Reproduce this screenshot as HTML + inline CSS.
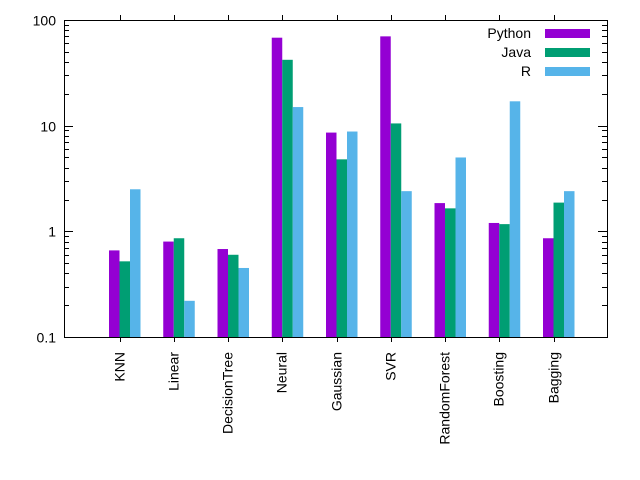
<!DOCTYPE html>
<html><head><meta charset="utf-8"><style>
body{margin:0;background:#fff}
svg{display:block;font-family:"Liberation Sans",sans-serif}
</style></head><body>
<svg id="chart" width="640" height="480" viewBox="0 0 640 480" xmlns="http://www.w3.org/2000/svg">
<g id="bars"></g>
<rect x="64.5" y="20.5" width="543" height="317" fill="none" stroke="#000" stroke-width="1"/>
<g id="axes"></g>
<g id="legend"></g>
</svg>
<script>
const categories=["KNN","Linear","DecisionTree","Neural","Gaussian","SVR","RandomForest","Boosting","Bagging"];
const seriesNames=["Python","Java","R"];
const python=[0.66,0.8,0.68,68,8.6,70,1.85,1.2,0.86];
const java=[0.52,0.86,0.6,42,4.8,10.5,1.65,1.17,1.87];
const rvals=[2.5,0.22,0.45,15,8.8,2.4,5,17,2.4];
const yTicks=[0.1,1,10,100];
const yTickLabels=["0.1","1","10","100"];
const colors=["#9400d3","#009e73","#56b4e9"];
const NS="http://www.w3.org/2000/svg";
function y(v){return 337-105.67*(Math.log10(v)+1);}
function x(i){return 119.5+i*54.25;}
function mk(tag,attrs,parent){const e=document.createElementNS(NS,tag);for(const k in attrs)e.setAttribute(k,attrs[k]);parent.appendChild(e);return e;}
const bars=document.getElementById('bars'),axes=document.getElementById('axes'),legend=document.getElementById('legend');
const series=[python,java,rvals];
series.forEach((s,si)=>{s.forEach((v,i)=>{
 const bx=x(i)-10.5+si*10.5, top=y(v);
 const r=mk('rect',{x:bx,y:top,width:10.5,height:337-top,fill:colors[si]},bars);
 
 
});});
yTicks.forEach((t,k)=>{
 const yy=Math.round(y(t))+0.5;
 mk('line',{x1:64,x2:73,y1:yy,y2:yy,stroke:'#000'},axes);
 mk('line',{x1:598,x2:607,y1:yy,y2:yy,stroke:'#000'},axes);
 const tx=mk('text',{x:56,y:yy+5,'text-anchor':'end','font-size':14},axes);
 tx.textContent=yTickLabels[k];
 
 
 if(k<yTicks.length-1){for(let m=2;m<10;m++){const my=Math.round(y(t*m))+0.5;
  mk('line',{x1:64,x2:69,y1:my,y2:my,stroke:'#000'},axes);
  mk('line',{x1:602,x2:607,y1:my,y2:my,stroke:'#000'},axes);}}
});
categories.forEach((c,i)=>{
 const xx=Math.round(x(i))+0.5;
 mk('line',{x1:xx,x2:xx,y1:337,y2:342,stroke:'#000'},axes);
 mk('line',{x1:xx,x2:xx,y1:15,y2:20,stroke:'#000'},axes);
 const tx=mk('text',{x:0,y:0,'text-anchor':'end','font-size':14,transform:`translate(${xx+4},352) rotate(-90)`},axes);
 tx.textContent=c;
 
 
});
seriesNames.forEach((n,si)=>{
 const ly=33+si*19;
 const g=mk('g',{},legend);
 
 
 const t=mk('text',{x:531,y:ly+5,'text-anchor':'end','font-size':14},g);t.textContent=n;
 mk('rect',{x:545,y:ly-4,width:45,height:9,fill:colors[si]},g);
});
</script>
</body></html>
